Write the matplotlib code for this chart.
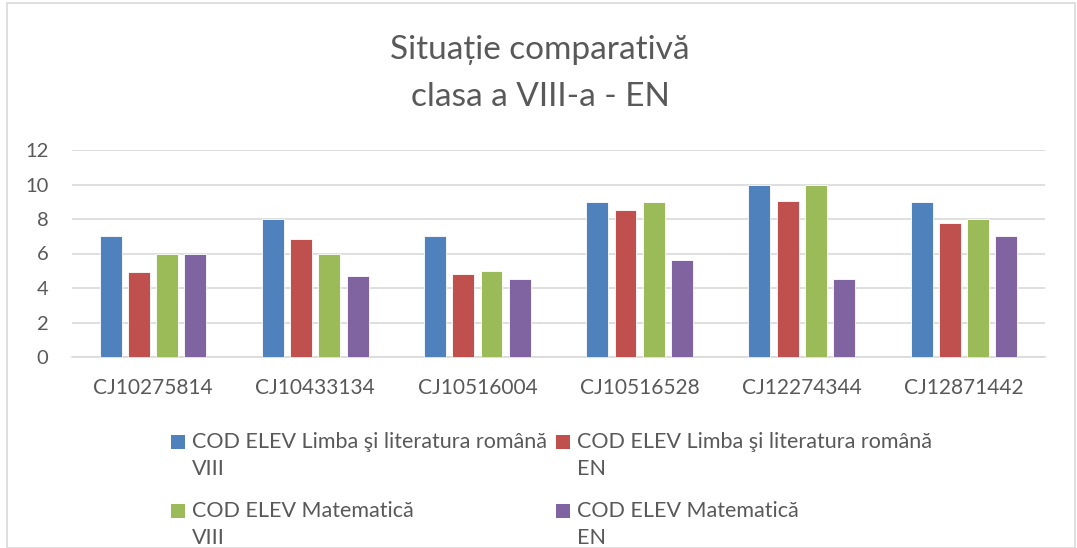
import matplotlib
matplotlib.use('Agg')
import matplotlib.pyplot as plt
import numpy as np
from matplotlib.patches import Rectangle

plt.rcParams['font.family'] = ['Lato', 'DejaVu Sans']

# Data
categories = ['CJ10275814', 'CJ10433134', 'CJ10516004', 'CJ10516528', 'CJ12274344', 'CJ12871442']
romana_viii = [7, 8, 7, 9, 10, 9]
romana_en = [4.95, 6.85, 4.8, 8.5, 9.05, 7.75]
mate_viii = [6, 6, 5, 9, 10, 8]
mate_en = [6, 4.7, 4.5, 5.6, 4.5, 7]
series_labels = [
    ('COD ELEV Limba şi literatura română', 'VIII'),
    ('COD ELEV Limba şi literatura română', 'EN'),
    ('COD ELEV Matematică', 'VIII'),
    ('COD ELEV Matematică', 'EN'),
]
colors = ['#4F81BD', '#C0504D', '#9BBB59', '#8064A2']
text_color = '#595959'

W, H = 1077, 548
fig = plt.figure(figsize=(W / 100, H / 100), dpi=100)
fig.patch.set_facecolor('white')
ax = fig.add_axes([72 / W, 1 - 357 / H, 973 / W, 207 / H])

x = np.arange(len(categories))
width = 0.135
step = 0.174
all_series = [romana_viii, romana_en, mate_viii, mate_en]
for i, (vals, col) in enumerate(zip(all_series, colors)):
    ax.bar(x + (i - 1.5) * step, vals, width, color=col,
           edgecolor='white', linewidth=0.6, zorder=3)

ax.set_xlim(-0.5, len(categories) - 0.5)
ax.set_ylim(0, 12)
ax.set_yticks(np.arange(0, 13, 2))
ax.set_xticks(x)
ax.set_xticklabels(categories)
ax.tick_params(axis='both', length=0, colors=text_color)
ax.tick_params(axis='x', pad=15, labelsize=15)
ax.tick_params(axis='y', pad=17, labelsize=14.5)
ax.grid(axis='y', color='#D9D9D9', linewidth=1.2, zorder=0)
for s in ['top', 'right', 'left']:
    ax.spines[s].set_visible(False)
ax.spines['bottom'].set_color('#D9D9D9')
ax.spines['bottom'].set_linewidth(1.2)

# title
fig.text(540 / W, 1 - 50 / H, 'Situație comparativă', ha='center', va='center',
         fontsize=24, color=text_color)
fig.text(540 / W, 1 - 97 / H, 'clasa a VIII-a - EN', ha='center', va='center',
         fontsize=24, color=text_color)

# legend, laid out row by row as in the reference (two columns, wrapped labels)
col_x = [171, 556]
row_y = [442, 511]
for i, ((line1, line2), col) in enumerate(zip(series_labels, colors)):
    lx = col_x[i % 2]
    ly = row_y[i // 2]
    fig.patches.append(Rectangle((lx / W, 1 - (ly + 7) / H), 14 / W, 14 / H,
                                 transform=fig.transFigure, facecolor=col, edgecolor='none'))
    fig.text((lx + 21) / W, 1 - ly / H, line1, ha='left', va='center',
             fontsize=15.5, color=text_color)
    fig.text((lx + 21) / W, 1 - (ly + 27) / H, line2, ha='left', va='center',
             fontsize=15.5, color=text_color)

# outer chart border
fig.patches.append(Rectangle((7 / W, 0), 1068 / W, 1 - 3 / H, transform=fig.transFigure,
                             fill=False, edgecolor='#D9D9D9', linewidth=1.2))

fig.savefig('out.png', dpi=100, facecolor='white')
